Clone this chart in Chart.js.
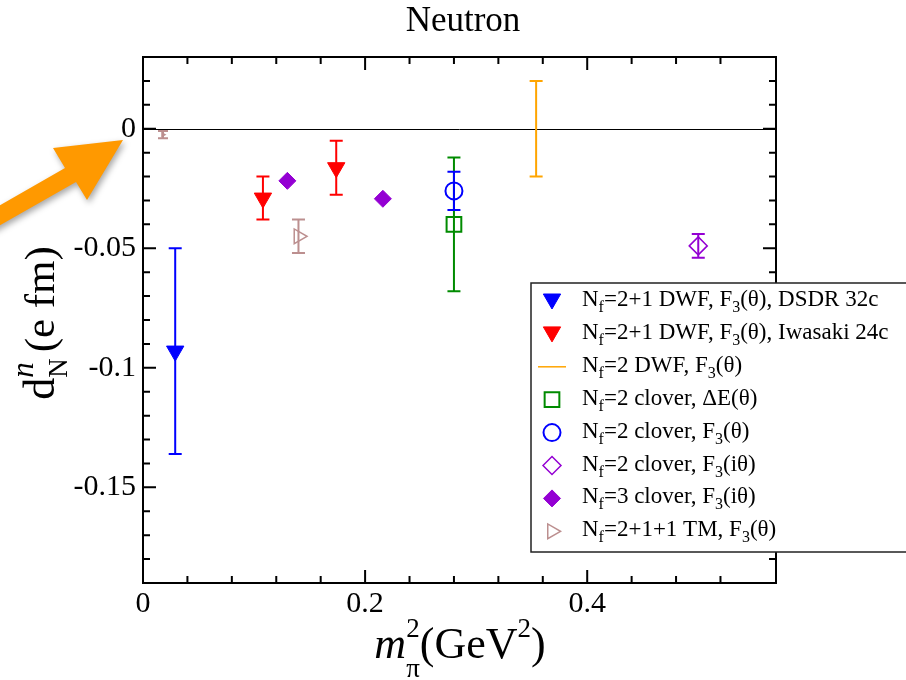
<!DOCTYPE html>
<html>
<head>
<meta charset="utf-8">
<script src="https://cdn.jsdelivr.net/npm/chart.js@4/dist/chart.umd.min.js"></script>
<style>
  html, body { margin: 0; padding: 0; background: #fff; }
  canvas { display: block; }
</style>
</head>
<body>
<canvas id="chart" width="906" height="680"></canvas>
<script>
// values: x = m_pi^2 (GeV^2), y = d_N^n (e fm), err = half error bar
const dsdrX = [0.029];
const dsdrY = [-0.093];
const dsdrErr = [0.043];

const iwasakiX = [0.108, 0.174];
const iwasakiY = [-0.029, -0.0163];
const iwasakiErr = [0.009, 0.0113];

const dwf2X = [0.354];
const dwf2Y = [0.0];
const dwf2Err = [0.02];

const cloverDeX = [0.28];
const cloverDeY = [-0.040];
const cloverDeErr = [0.028];

const cloverF3X = [0.28];
const cloverF3Y = [-0.026];
const cloverF3Err = [0.008];

const clover2iX = [0.5];
const clover2iY = [-0.049];
const clover2iErr = [0.005];

const clover3iX = [0.130, 0.216];
const clover3iY = [-0.0218, -0.0293];
const clover3iErr = [0, 0];

const tmX = [0.018, 0.140];
const tmY = [-0.0025, -0.045];
const tmErr = [0.0015, 0.007];

const legendLabels = [
  'N_f=2+1 DWF, F_3(θ), DSDR 32c',
  'N_f=2+1 DWF, F_3(θ), Iwasaki 24c',
  'N_f=2 DWF, F_3(θ)',
  'N_f=2 clover, ΔE(θ)',
  'N_f=2 clover, F_3(θ)',
  'N_f=2 clover, F_3(iθ)',
  'N_f=3 clover, F_3(iθ)',
  'N_f=2+1+1 TM, F_3(θ)'
];

const xTickLabels = [0, 0.2, 0.4];
const yTickLabels = [0, -0.05, -0.1, -0.15];

const SERIF = "'Liberation Serif', 'Times New Roman', serif";

function pts(xs, ys, es) {
  return xs.map((x, i) => ({ x: x, y: ys[i], err: es[i] }));
}

function ds(label, xs, ys, es, color, style, rot, r, filled, bw) {
  return {
    label: label,
    data: pts(xs, ys, es),
    pointStyle: style,
    rotation: rot,
    pointRadius: r,
    borderColor: color,
    backgroundColor: filled ? color : 'rgba(0,0,0,0)',
    borderWidth: bw,
    showLine: false
  };
}

const datasets = [
  ds(legendLabels[0], dsdrX, dsdrY, dsdrErr, '#0000ff', 'triangle', 180, 10, true, 1),
  ds(legendLabels[1], iwasakiX, iwasakiY, iwasakiErr, '#ff0000', 'triangle', 180, 10, true, 1),
  ds(legendLabels[2], dwf2X, dwf2Y, dwf2Err, '#ffa500', 'line', 0, 0, false, 1.5),
  ds(legendLabels[3], cloverDeX, cloverDeY, cloverDeErr, '#008b00', 'rect', 0, 10.4, false, 2),
  ds(legendLabels[4], cloverF3X, cloverF3Y, cloverF3Err, '#0000ff', 'circle', 0, 8.5, false, 2),
  ds(legendLabels[5], clover2iX, clover2iY, clover2iErr, '#9400d3', 'rectRot', 0, 9, false, 1.5),
  ds(legendLabels[6], clover3iX, clover3iY, clover3iErr, '#9400d3', 'rectRot', 0, 8.5, true, 1),
  ds(legendLabels[7], tmX, tmY, tmErr, '#bc8f8f', 'triangle', 90, 8.5, false, 1.5)
];
// the point at the physical mass is drawn tiny
datasets[7].pointRadius = c => (c.dataIndex === 0 ? 2 : 8.5);

function fontOf(p) {
  return (p.italic ? 'italic ' : '') + p.size + 'px ' + SERIF;
}

// lays out text pieces with sub/superscripts; stack = start at previous piece's x
function drawRich(ctx, parts, x, y, align) {
  let end = 0, lastStart = 0;
  const out = [];
  parts.forEach(p => {
    ctx.font = fontOf(p);
    const w = ctx.measureText(p.t).width;
    const sx = (p.stack ? lastStart : end) + (p.gap || 0);
    out.push({ p: p, x: sx });
    lastStart = sx;
    end = Math.max(end, sx + w);
  });
  const x0 = align === 'center' ? x - end / 2 : x;
  ctx.textAlign = 'left';
  ctx.textBaseline = 'alphabetic';
  ctx.fillStyle = '#000';
  out.forEach(o => {
    ctx.font = fontOf(o.p);
    ctx.fillText(o.p.t, x0 + o.x, y + (o.p.dy || 0));
  });
}

function legendParts(s) {
  const parts = [];
  s.split(/(_.)/).forEach(tok => {
    if (!tok) return;
    if (tok[0] === '_') parts.push({ t: tok[1], size: 16, dy: 6 });
    else parts.push({ t: tok, size: 23 });
  });
  return parts;
}

const errorBars = {
  id: 'errorBars',
  beforeDatasetsDraw(chart) {
    const ctx = chart.ctx, xs = chart.scales.x, ys = chart.scales.y;
    ctx.save();
    // zero line
    ctx.strokeStyle = '#000';
    ctx.lineWidth = 1;
    ctx.beginPath();
    ctx.moveTo(chart.chartArea.left, Math.round(ys.getPixelForValue(0)) + 0.5);
    ctx.lineTo(chart.chartArea.right, Math.round(ys.getPixelForValue(0)) + 0.5);
    ctx.stroke();
    chart.data.datasets.forEach(d => {
      ctx.strokeStyle = d.borderColor;
      ctx.lineWidth = 2;
      d.data.forEach(p => {
        if (!p.err) return;
        const px = xs.getPixelForValue(p.x);
        const t = ys.getPixelForValue(p.y + p.err);
        const b = ys.getPixelForValue(p.y - p.err);
        const cap = p.err < 0.003 ? 5 : 6.5;
        ctx.beginPath();
        ctx.moveTo(px, t); ctx.lineTo(px, b);
        ctx.moveTo(px - cap, t); ctx.lineTo(px + cap, t);
        ctx.moveTo(px - cap, b); ctx.lineTo(px + cap, b);
        ctx.stroke();
      });
    });
    ctx.restore();
  }
};

const decorations = {
  id: 'decorations',
  afterDraw(chart) {
    const ctx = chart.ctx, a = chart.chartArea;
    const xs = chart.scales.x, ys = chart.scales.y;
    ctx.save();
    // frame
    ctx.strokeStyle = '#000';
    ctx.lineWidth = 2;
    ctx.strokeRect(a.left, a.top, a.right - a.left, a.bottom - a.top);
    // inward ticks on all four sides
    ctx.beginPath();
    xs.ticks.forEach(t => {
      const k = Math.round(t.value / 0.04);
      if (Math.abs(k * 0.04 - t.value) > 1e-6) return;
      const px = xs.getPixelForValue(t.value);
      const len = xTickLabels.some(v => Math.abs(v - t.value) < 1e-6) ? 13 : 7;
      ctx.moveTo(px, a.bottom); ctx.lineTo(px, a.bottom - len);
      ctx.moveTo(px, a.top); ctx.lineTo(px, a.top + len);
    });
    ys.ticks.forEach(t => {
      const py = ys.getPixelForValue(t.value);
      if (Math.abs(py - a.top) < 1 || Math.abs(py - a.bottom) < 1) return;
      const len = yTickLabels.some(v => Math.abs(v - t.value) < 1e-6) ? 13 : 7;
      ctx.moveTo(a.left, py); ctx.lineTo(a.left + len, py);
      ctx.moveTo(a.right, py); ctx.lineTo(a.right - len, py);
    });
    ctx.stroke();

    // title
    drawRich(ctx, [{ t: 'Neutron', size: 35 }], 463, 31, 'center');

    // x axis title
    drawRich(ctx, [
      { t: 'm', size: 44, italic: true },
      { t: 'π', size: 27, dy: 19 },
      { t: '2', size: 27, dy: -21, stack: true },
      { t: '(GeV', size: 44 },
      { t: '2', size: 27, dy: -21 },
      { t: ')', size: 44 }
    ], 460, 658, 'center');

    // y axis title
    ctx.save();
    ctx.translate(54, 323);
    ctx.rotate(-Math.PI / 2);
    drawRich(ctx, [
      { t: 'd', size: 44 },
      { t: 'N', size: 27, dy: 13 },
      { t: 'n', size: 31, dy: -21, italic: true, stack: true },
      { t: '(e fm)', size: 43, gap: 6 }
    ], 0, 0, 'center');
    ctx.restore();

    // orange arrow pointing at the zero tick
    ctx.save();
    ctx.shadowColor = 'rgba(0,0,0,0.35)';
    ctx.shadowBlur = 6;
    ctx.shadowOffsetX = 2;
    ctx.shadowOffsetY = 3;
    ctx.fillStyle = '#ff9900';
    ctx.beginPath();
    ctx.moveTo(123, 140);
    ctx.lineTo(53, 148);
    ctx.lineTo(65, 168);
    ctx.lineTo(-10, 211);
    ctx.lineTo(-10, 231);
    ctx.lineTo(76, 182);
    ctx.lineTo(87, 200);
    ctx.closePath();
    ctx.fill();
    ctx.restore();

    // legend box
    const lx = 531, ly = 283, lw = 400, lh = 269;
    ctx.fillStyle = '#fff';
    ctx.fillRect(lx, ly, lw, lh);
    ctx.strokeStyle = '#222';
    ctx.lineWidth = 1.5;
    ctx.strokeRect(lx, ly, lw, lh);
    chart.data.datasets.forEach((d, i) => {
      const cy = 301 + i * 32.9;
      const cx = 552;
      ctx.strokeStyle = d.borderColor;
      ctx.fillStyle = d.backgroundColor;
      if (d.pointStyle === 'line') {
        ctx.lineWidth = 1.5;
        ctx.beginPath();
        ctx.moveTo(cx - 14, cy); ctx.lineTo(cx + 14, cy);
        ctx.stroke();
      } else {
        ctx.lineWidth = d.borderWidth;
        Chart.helpers.drawPoint(ctx, {
          pointStyle: d.pointStyle,
          rotation: d.rotation,
          radius: typeof d.pointRadius === 'number' ? d.pointRadius : 8.5,
          borderWidth: d.borderWidth
        }, cx, d.pointStyle === 'triangle' && d.rotation === 180 ? cy - 2 : cy);
      }
      drawRich(ctx, legendParts(d.label), 582, cy + 5, 'left');
    });
    ctx.restore();
  }
};

new Chart(document.getElementById('chart'), {
  type: 'scatter',
  data: { datasets: datasets },
  plugins: [errorBars, decorations],
  options: {
    responsive: false,
    animation: false,
    events: [],
    layout: { padding: { left: 0, top: 57, right: 130, bottom: 0 } },
    plugins: { legend: { display: false }, tooltip: { enabled: false } },
    scales: {
      x: {
        type: 'linear',
        min: 0,
        max: 0.57,
        afterFit: s => { s.height = 97; },
        grid: { display: false, drawTicks: false },
        border: { display: false },
        ticks: {
          stepSize: 0.04,
          autoSkip: false,
          maxRotation: 0,
          padding: 3,
          color: '#000',
          font: { family: SERIF, size: 30 },
          callback: v => xTickLabels.some(t => Math.abs(t - v) < 1e-6) ? String(+v.toFixed(2)) : ''
        }
      },
      y: {
        type: 'linear',
        min: -0.19,
        max: 0.03,
        afterFit: s => { s.width = 143; },
        grid: { display: false, drawTicks: false },
        border: { display: false },
        ticks: {
          stepSize: 0.01,
          autoSkip: false,
          padding: 7,
          color: '#000',
          font: { family: SERIF, size: 30 },
          callback: v => yTickLabels.some(t => Math.abs(t - v) < 1e-6) ? String(+v.toFixed(2)) : ''
        }
      }
    }
  }
});
</script>
</body>
</html>
